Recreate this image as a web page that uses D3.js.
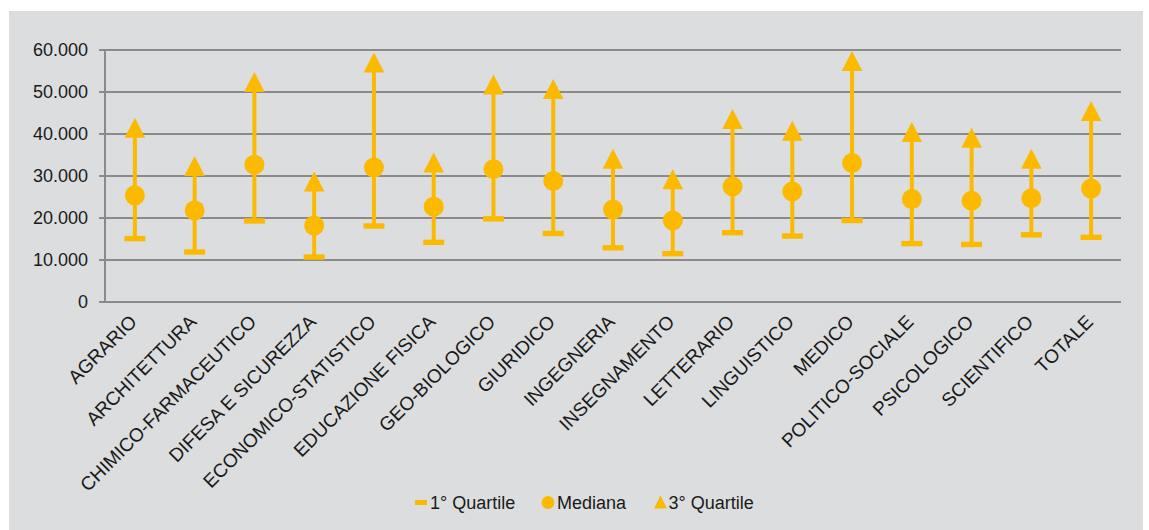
<!DOCTYPE html>
<html><head><meta charset="utf-8">
<script src="https://cdn.jsdelivr.net/npm/d3@7"></script>
<style>body{margin:0;background:#fff;}svg{display:block;font-family:"Liberation Sans",Arial,sans-serif;}</style>
</head><body>
<svg id="c" width="1149" height="530"></svg>
<script>
const categories = ["AGRARIO","ARCHITETTURA","CHIMICO-FARMACEUTICO","DIFESA E SICUREZZA","ECONOMICO-STATISTICO","EDUCAZIONE FISICA","GEO-BIOLOGICO","GIURIDICO","INGEGNERIA","INSEGNAMENTO","LETTERARIO","LINGUISTICO","MEDICO","POLITICO-SOCIALE","PSICOLOGICO","SCIENTIFICO","TOTALE"];
const q1 = [15100,11900,19300,10700,18100,14200,19800,16300,12900,11500,16500,15700,19400,13900,13700,16000,15400];
const mediana = [25400,21800,32700,18200,32000,22700,31600,28800,22000,19400,27500,26300,33100,24500,24100,24700,27000];
const q3 = [41500,32400,52400,28700,57000,33200,51800,50700,34100,29200,43600,40800,57400,40500,39100,34100,45500];
const yTicks = [0,10000,20000,30000,40000,50000,60000];
const legendLabels = ["1° Quartile","Mediana","3° Quartile"];

const YEL = "#FBBA00", GRID = "#8a8a8a", FS = 18, FSX = 19;
const svg = d3.select("#c");
svg.append("rect").attr("x",9).attr("y",11).attr("width",1134).attr("height",519).attr("fill","#DCDDDF");

const x = d3.scaleBand().domain(categories).range([105,1121]).padding(0);
const y = d3.scaleLinear().domain([0,60000]).range([302,50]);
const loc = d3.formatLocale({decimal:",",thousands:".",grouping:[3],currency:["€",""]});
const fmt = loc.format(",d");

// y axis labels
const g = svg.append("g").attr("transform","translate(99,0)");
g.call(d3.axisLeft(y).tickValues(yTicks).tickFormat(fmt).tickSize(0).tickPadding(11));
g.select(".domain").remove();
g.selectAll("text").attr("font-size",FS).attr("fill","#1a1a1a").attr("font-family","Liberation Sans, Arial, sans-serif");
// grid
svg.append("g").selectAll("line").data(yTicks).join("line")
  .attr("x1",99).attr("x2",1121).attr("y1",d=>y(d)).attr("y2",d=>y(d))
  .attr("stroke",GRID).attr("stroke-width",2);
svg.append("line").attr("x1",105).attr("x2",105).attr("y1",y(60000)).attr("y2",y(0)).attr("stroke",GRID).attr("stroke-width",2);

// x labels
svg.append("g").selectAll("text").data(categories).join("text")
  .attr("transform",d=>`translate(${x(d)+x.bandwidth()/2+3},323) rotate(-45)`)
  .attr("text-anchor","end").attr("font-size",FSX).attr("fill","#1a1a1a").text(d=>d);

// marks
const cx = d=>x(d)+x.bandwidth()/2;
const gm = svg.append("g");
gm.selectAll("line.hl").data(categories).join("line").attr("class","hl")
  .attr("x1",cx).attr("x2",cx).attr("y1",(d,i)=>y(q1[i])).attr("y2",(d,i)=>y(q3[i]))
  .attr("stroke",YEL).attr("stroke-width",4);
gm.selectAll("rect.q1").data(categories).join("rect").attr("class","q1")
  .attr("x",d=>cx(d)-10.5).attr("y",(d,i)=>y(q1[i])-2.7).attr("width",21).attr("height",5.4).attr("fill",YEL);
gm.selectAll("circle").data(categories).join("circle")
  .attr("cx",cx).attr("cy",(d,i)=>y(mediana[i])).attr("r",10).attr("fill",YEL);
gm.selectAll("path.q3").data(categories).join("path").attr("class","q3")
  .attr("d",(d,i)=>{const X=cx(d),Y=y(q3[i]);return `M${X},${Y-10}L${X+10.3},${Y+10}L${X-10.3},${Y+10}Z`;})
  .attr("fill",YEL);

// legend
const lg = svg.append("g");
const ly = 502.5;
lg.append("rect").attr("x",415).attr("y",ly-2.5).attr("width",12).attr("height",5).attr("fill",YEL);
lg.append("circle").attr("cx",548).attr("cy",ly).attr("r",6.5).attr("fill",YEL);
lg.append("path").attr("d",`M660.5,${ly-7}L667,${ly+6}L654,${ly+6}Z`).attr("fill",YEL);
const lx = [430,557,668.5];
lg.selectAll("text").data(legendLabels).join("text")
  .attr("x",(d,i)=>lx[i]).attr("y",ly).attr("dy","0.35em").attr("font-size",FS).attr("fill","#1a1a1a").text(d=>d);
</script>
</body></html>
